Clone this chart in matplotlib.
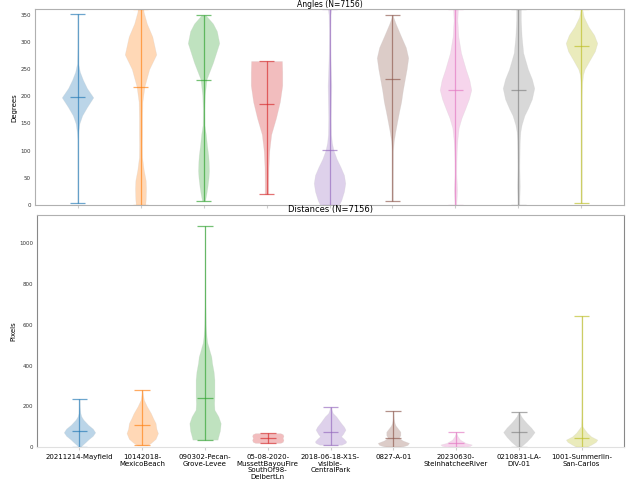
import matplotlib
matplotlib.use("Agg")
import matplotlib.pyplot as plt
import numpy as np

# ---------------- data ----------------
categories = ["20211214-Mayfield", "10142018-\nMexicoBeach", "090302-Pecan-\nGrove-Levee",
              "05-08-2020-\nMussettBayouFire\nSouthOf98-\nDelbertLn",
              "2018-06-18-X1S-\nvisible-\nCentralPark", "0827-A-01",
              "20230630-\nSteinhatcheeRiver", "0210831-LA-\nDIV-01",
              "1001-Summerlin-\nSan-Carlos"]
colors = ["#1f77b4", "#ff7f0e", "#2ca02c", "#d62728", "#9467bd",
          "#8c564b", "#e377c2", "#7f7f7f", "#bcbd22"]

# Angles: density profile knots (value, relative width), means
angle_vals = [
    [3, 120, 135, 150, 165, 180, 198, 215, 230, 245, 260, 290, 352],
    [0, 10, 30, 45, 65, 88, 110, 130, 160, 190, 218, 250, 277, 310, 334, 355, 360],
    [8, 20, 33, 50, 63, 80, 92, 110, 130, 147, 175, 202, 232, 262, 298, 320, 334, 349],
    [20, 40, 70, 100, 130, 160, 190, 220, 245, 265],
    [0, 9, 25, 40, 55, 70, 85, 101, 115, 130, 160, 190, 220, 250, 280, 320, 350, 360],
    [7, 50, 100, 117, 135, 154, 172, 190, 210, 231, 250, 271, 290, 310, 334, 346, 350],
    [0, 27, 58, 80, 101, 120, 142, 160, 176, 195, 212, 230, 250, 280, 310, 340, 360],
    [0, 34, 70, 100, 117, 135, 148, 165, 178, 195, 215, 232, 250, 280, 310, 340, 360],
    [3, 100, 200, 226, 240, 250, 268, 283, 298, 313, 328, 340, 346, 360],
]
angle_dens = [
    [0.01, 0.015, 0.05, 0.12, 0.3, 0.6, 1.0, 0.6, 0.35, 0.15, 0.04, 0.015, 0.01],
    [0.3, 0.33, 0.35, 0.33, 0.2, 0.1, 0.09, 0.1, 0.1, 0.12, 0.25, 0.55, 1.0, 0.75, 0.4, 0.2, 0.18],
    [0.1, 0.18, 0.25, 0.32, 0.35, 0.33, 0.3, 0.22, 0.15, 0.06, 0.05, 0.08, 0.2, 0.6, 1.0, 0.85, 0.6, 0.15],
    [0.12, 0.12, 0.13, 0.18, 0.3, 0.6, 0.85, 1.0, 1.0, 0.98],
    [0.6, 0.75, 0.92, 1.0, 0.92, 0.7, 0.45, 0.25, 0.15, 0.1, 0.08, 0.1, 0.12, 0.08, 0.05, 0.04, 0.06, 0.1],
    [0.03, 0.03, 0.04, 0.08, 0.18, 0.3, 0.42, 0.55, 0.65, 0.78, 0.9, 1.0, 0.85, 0.55, 0.2, 0.05, 0.03],
    [0.05, 0.1, 0.05, 0.06, 0.08, 0.12, 0.2, 0.38, 0.6, 0.85, 1.0, 0.88, 0.65, 0.35, 0.18, 0.12, 0.15],
    [0.05, 0.08, 0.06, 0.07, 0.08, 0.12, 0.2, 0.38, 0.6, 0.85, 1.0, 0.85, 0.6, 0.3, 0.2, 0.15, 0.15],
    [0.02, 0.02, 0.02, 0.05, 0.1, 0.2, 0.55, 0.85, 1.0, 0.8, 0.45, 0.25, 0.15, 0.05],
]
angle_means = [198, 218, 230, 185, 101, 231, 212, 212.5, 292]

# Distances
dist_vals = [
    [0, 11, 25, 36, 55, 72, 90, 109, 134, 150, 166, 200, 235],
    [8, 20, 40, 68, 90, 117, 140, 166, 199, 232, 265, 281],
    [36, 52, 80, 117, 150, 183, 215, 248, 290, 330, 370, 412, 444, 470, 493, 511, 540, 575, 600, 700, 850, 1000, 1085],
    [20, 25, 35, 44, 55, 63, 68],
    [11, 20, 27, 40, 52, 65, 85, 100, 117, 135, 150, 166, 180, 194],
    [0, 10, 20, 32, 45, 58, 75, 90, 105, 118, 140, 179],
    [0, 6, 12, 20, 36, 52, 65, 73],
    [0, 10, 27, 50, 73, 95, 117, 135, 150, 171],
    [0, 11, 25, 36, 52, 70, 85, 101, 150, 300, 644],
]
dist_dens = [
    [0.05, 0.2, 0.4, 0.55, 0.85, 1.0, 0.85, 0.55, 0.25, 0.12, 0.06, 0.02, 0.01],
    [0.3, 0.55, 0.85, 1.0, 0.9, 0.85, 0.7, 0.55, 0.3, 0.1, 0.03, 0.01],
    [0.8, 0.85, 0.95, 1.0, 0.85, 0.6, 0.58, 0.6, 0.6, 0.6, 0.55, 0.45, 0.4, 0.3, 0.22, 0.15, 0.1, 0.07, 0.05, 0.03, 0.02, 0.015, 0.01],
    [0.8, 0.95, 1.0, 0.95, 1.0, 0.95, 0.8],
    [0.7, 0.95, 1.0, 0.85, 0.67, 0.8, 0.95, 0.85, 0.67, 0.5, 0.36, 0.15, 0.08, 0.04],
    [0.5, 0.9, 1.0, 0.6, 0.35, 0.45, 0.45, 0.3, 0.15, 0.08, 0.03, 0.01],
    [0.6, 0.9, 1.0, 0.6, 0.25, 0.1, 0.03, 0.01],
    [0.08, 0.25, 0.5, 0.78, 1.0, 0.78, 0.5, 0.3, 0.15, 0.02],
    [0.3, 0.6, 0.9, 1.0, 0.6, 0.35, 0.2, 0.05, 0.02, 0.01, 0.01],
]
dist_means = [77, 107, 242, 44, 73, 42, 20, 73, 45]

angle_ticks = [0, 50, 100, 150, 200, 250, 300, 350]
dist_ticks = [0, 200, 400, 600, 800, 1000]


def make_stats(vals, dens, means):
    out = []
    for v, d, m in zip(vals, dens, means):
        v = np.asarray(v, float)
        out.append(dict(coords=v, vals=np.asarray(d, float), mean=m,
                        median=m, min=v.min(), max=v.max()))
    return out


def draw(ax, stats):
    pos = np.arange(1, len(stats) + 1)
    vp = ax.violin(stats, positions=pos, widths=0.5, showmeans=True,
                   showextrema=True)
    for body, c in zip(vp['bodies'], colors):
        body.set_facecolor(c)
        body.set_edgecolor('#c8c8c8')
        body.set_linewidth(0.4)
        body.set_alpha(0.3)
    for key in ('cbars', 'cmins', 'cmaxes', 'cmeans'):
        vp[key].set_color(colors)
        vp[key].set_alpha(0.65)
        vp[key].set_linewidth(0.9)


fig = plt.figure(figsize=(6.4, 4.95), dpi=100)
ax1 = fig.add_axes([0.0547, 0.586, 0.9203, 0.395])
ax2 = fig.add_axes([0.058, 0.097, 0.917, 0.469])

draw(ax1, make_stats(angle_vals, angle_dens, angle_means))
draw(ax2, make_stats(dist_vals, dist_dens, dist_means))

ax1.set_ylim(0, 360)
ax1.set_yticks(angle_ticks)
ax1.set_xticks(np.arange(1, 10))
ax1.set_xticklabels([])
ax1.set_ylabel("Degrees", fontsize=5, labelpad=2)
ax1.set_title("Angles (N=7156)", fontsize=5.5, pad=0.5)

ax2.set_ylim(0, 1140)
ax2.set_yticks(dist_ticks)
ax2.set_xticks(np.arange(1, 10))
ax2.set_xticklabels(categories, fontsize=5, linespacing=1.15)
ax2.set_ylabel("Pixels", fontsize=5, labelpad=2)
ax2.set_title("Distances (N=7156)", fontsize=6, pad=2)

for ax in (ax1, ax2):
    ax.set_xlim(0.325, 9.675)
    ax.tick_params(axis='y', labelsize=4, length=0, pad=3, labelcolor='#333333')
    ax.tick_params(axis='x', length=2, color='#cccccc', pad=3)
    for s in ax.spines.values():
        s.set_color('#b0b0b0')
        s.set_linewidth(0.8)
ax2.spines['left'].set_color('#888888')
ax2.spines['right'].set_color('#888888')
ax2.spines['bottom'].set_color('#e0e0e0')

fig.savefig("out.png", dpi=100)
